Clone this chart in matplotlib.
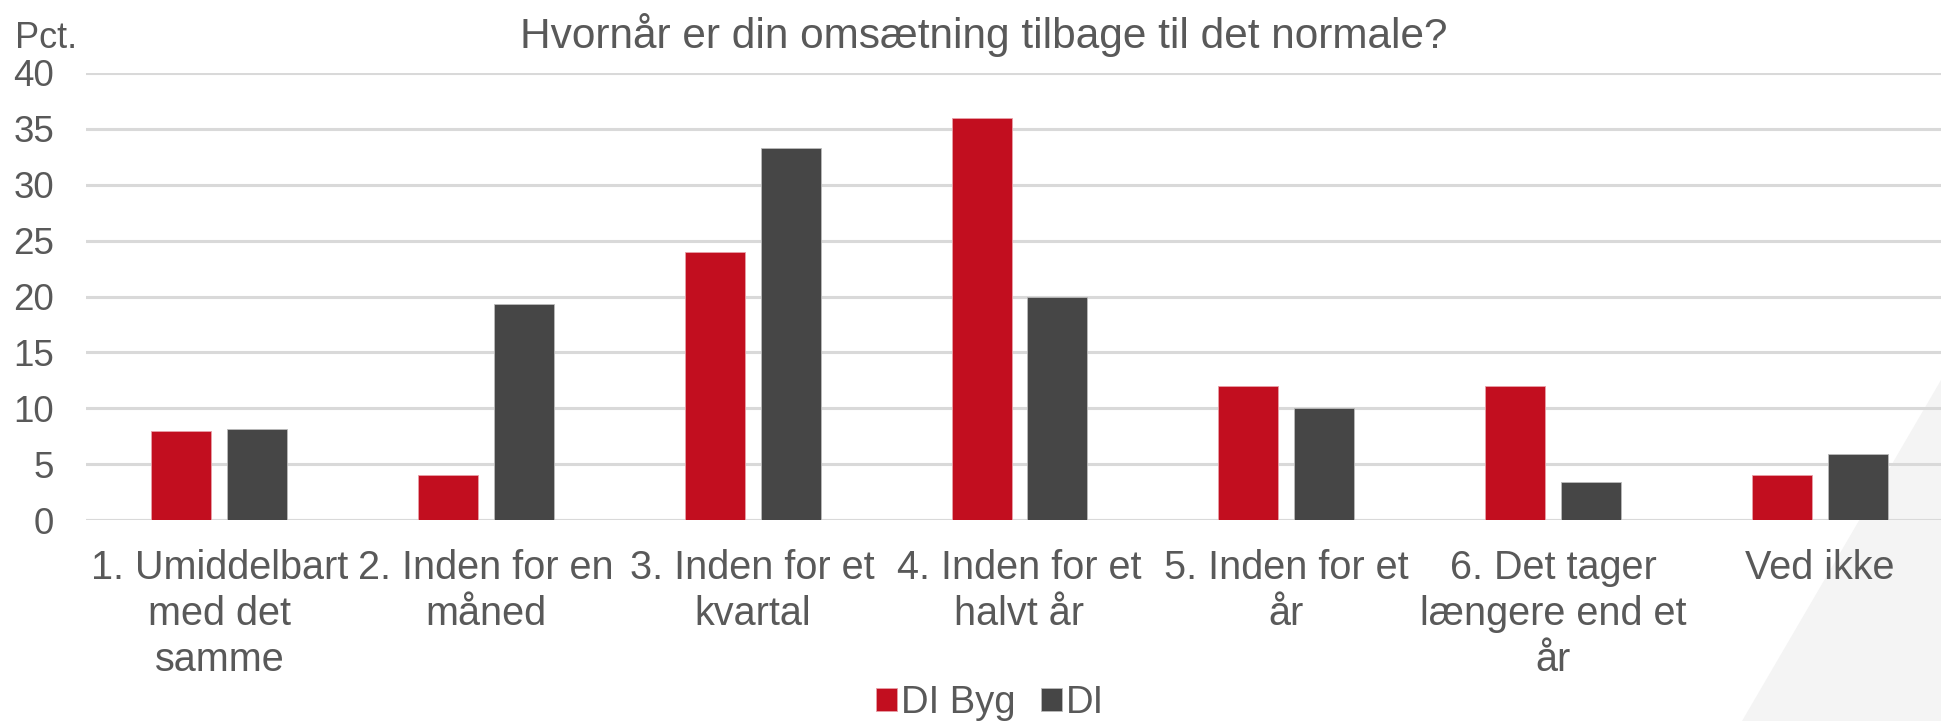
import matplotlib
matplotlib.use("Agg")
import matplotlib.pyplot as plt
from matplotlib.patches import Polygon
import numpy as np

# data
categories = [
    "1. Umiddelbart\nmed det\nsamme",
    "2. Inden for en\nmåned",
    "3. Inden for et\nkvartal",
    "4. Inden for et\nhalvt år",
    "5. Inden for et\når",
    "6. Det tager\nlængere end et\når",
    "Ved ikke",
]
di_byg = [8, 4, 24, 36, 12, 12, 4]
di = [8.1, 19.3, 33.3, 20, 10, 3.4, 5.9]
series_names = ["DI Byg", "DI"]
y_ticks = [0, 5, 10, 15, 20, 25, 30, 35, 40]

RED = "#C20E1F"
DARK = "#464646"
TEXT = "#595959"
GRID = "#D9D9D9"

plt.rcParams["font.family"] = ["Liberation Sans", "DejaVu Sans"]

W, H = 1941, 721
fig = plt.figure(figsize=(W / 100, H / 100), dpi=100)

# light grey triangle in the lower right corner
tri = Polygon([(1742 / W, 0), (1.0, 1 - 380 / H), (1.0, 0)],
              closed=True, transform=fig.transFigure,
              facecolor="#F4F4F4", edgecolor="none", zorder=0)
fig.patches.append(tri)

# axes runs a bit past the right edge, as in the reference
left, right = 86 / W, 1953 / W
bottom, top = 1 - 520 / H, 1 - 73 / H
ax = fig.add_axes([left, bottom, right - left, top - bottom])
ax.set_facecolor("none")
ax.set_zorder(2)

x = np.arange(len(categories))
bw = 0.225
off = 0.142
ax.bar(x - off, di_byg, bw, color=RED, edgecolor="#E8A0A8", linewidth=0.6,
       label=series_names[0], zorder=3)
ax.bar(x + off, di, bw, color=DARK, edgecolor="#BBBBBB", linewidth=0.6,
       label=series_names[1], zorder=3)

ax.set_xlim(-0.5, len(categories) - 0.5)
ax.set_ylim(0, 40)
ax.set_yticks(y_ticks)
ax.yaxis.grid(True, color=GRID, linewidth=2.2, zorder=0)
ax.set_axisbelow(True)
for s in ["top", "right", "left", "bottom"]:
    ax.spines[s].set_visible(False)
ax.axhline(0, color=GRID, linewidth=2.2, zorder=1)

ax.tick_params(axis="y", length=0, pad=23, labelsize=26.5, labelcolor=TEXT)
ax.tick_params(axis="x", length=0, pad=21, labelsize=28.5, labelcolor=TEXT)
ax.set_xticks(x)
ax.set_xticklabels(categories, linespacing=1.26)

fig.text(984 / W, 1 - 35 / H, "Hvornår er din omsætning tilbage til det normale?",
         ha="center", va="center", fontsize=30.5, color=TEXT)
fig.text(15 / W, 1 - 38 / H, "Pct.", ha="left", va="center",
         fontsize=26, color=TEXT)

leg = ax.legend(loc="center", bbox_to_anchor=(990 / W, 1 - 703 / H),
                bbox_transform=fig.transFigure, ncol=2, frameon=False,
                fontsize=27.5, handlelength=0.55, handleheight=0.55,
                handletextpad=0.12, columnspacing=0.65, borderaxespad=0)
for t in leg.get_texts():
    t.set_color(TEXT)

fig.savefig("out.png", dpi=100)
